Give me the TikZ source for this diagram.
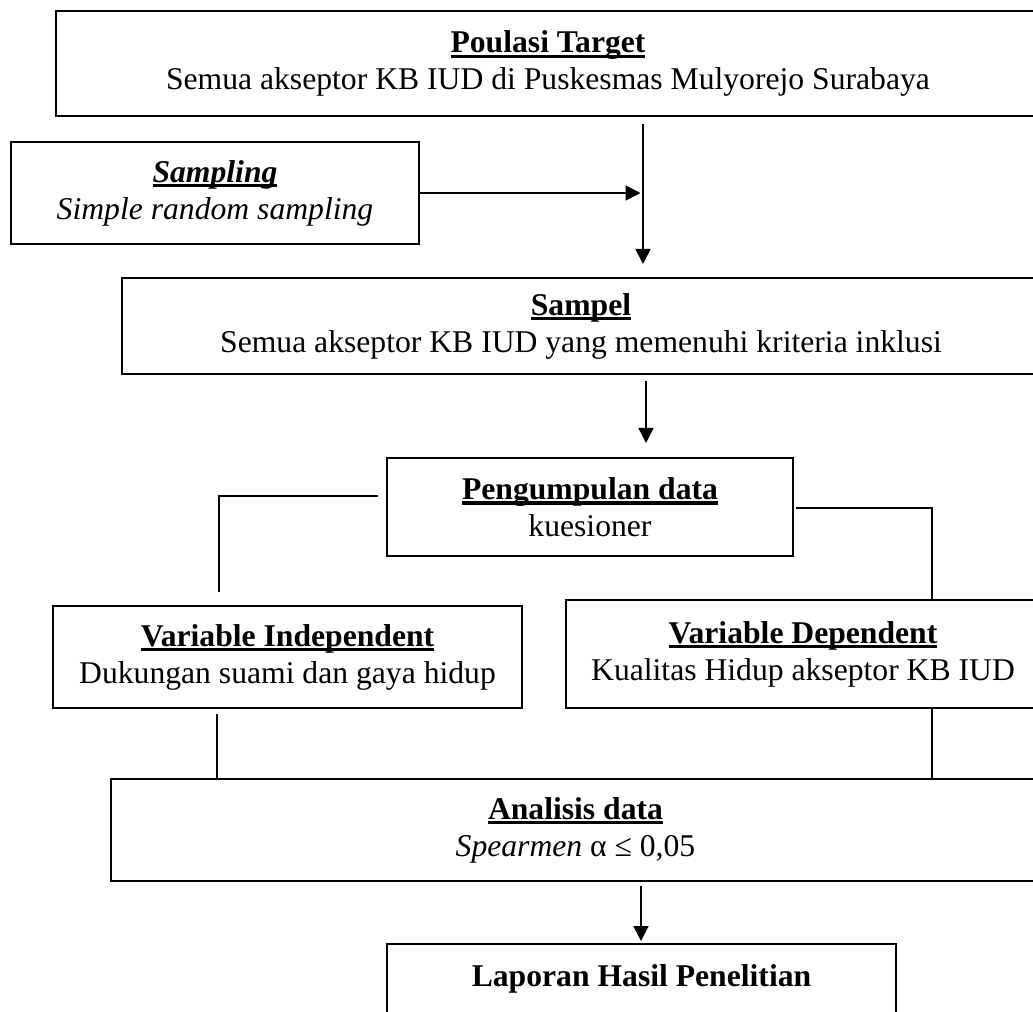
\documentclass[tikz,border=0pt]{standalone}
\usepackage{fontspec}
\setmainfont{Liberation Serif}
\usetikzlibrary{arrows.meta,calc}
\tikzset{
  txt/.style={inner sep=0pt, align=center, font=\fontsize{12.66pt}{14.8pt}\selectfont},
  box/.style={txt, draw, line width=0.8pt},
  conn/.style={line width=0.7pt},
  arr/.style={conn, -{Triangle[length=6pt,width=6pt]}}
}
\newsavebox{\ulbox}
\newcommand{\myul}[1]{\sbox{\ulbox}{#1}\rlap{\rule[-2.1pt]{\wd\ulbox}{1.3pt}}\usebox{\ulbox}}
\newcommand{\ttl}[1]{\myul{\textbf{#1}}}
\begin{document}
\begin{tikzpicture}[x=0.4pt,y=-0.4pt]
\useasboundingbox (0,0) rectangle (1033,1012);
\clip (0,0) rectangle (1033,1012);
\node[box, minimum width=393.6pt, minimum height=42pt] (top) at (548,63.5) {\ttl{Poulasi Target}\\Semua akseptor KB IUD di Puskesmas Mulyorejo Surabaya};
\node[box, minimum width=163.2pt, minimum height=40.8pt] (sampling) at (215,193) {\myul{\textbf{\textit{Sampling}}}\\\textit{Simple random sampling}};
\node[box, minimum width=367.2pt, minimum height=38.4pt] (sampel) at (581,326) {\ttl{Sampel}\\Semua akseptor KB IUD yang memenuhi kriteria inklusi};
\node[box, minimum width=162.4pt, minimum height=39.2pt] (peng) at (590,507) {\ttl{Pengumpulan data}\\kuesioner};
\node[box, minimum width=187.6pt, minimum height=40.8pt] (indep) at (287.5,657) {\ttl{Variable Independent}\\Dukungan suami dan gaya hidup};
\node[box, minimum width=189.6pt, minimum height=43.2pt] (dep) at (803,654) {\ttl{Variable Dependent}\\Kualitas Hidup akseptor KB IUD};
\node[box, minimum width=371.6pt, minimum height=40.8pt] (analisis) at (575.5,830) {\ttl{Analisis data}\\\textit{Spearmen} α ≤ 0,05};
\node[box, minimum width=203.6pt, minimum height=46.4pt] (laporan) at (641.5,1002) {};
\node[txt] (laptext) at (641.5,979) {\textbf{Laporan Hasil Penelitian}};

\coordinate (vx) at (643,0);
\draw[arr, shorten <=2.8pt, shorten >=5.2pt] (top.south -| vx) -- (sampel.north -| vx);
\draw[arr, shorten >=1pt] (sampling.east) -- (sampling.east -| vx);
\coordinate (vx2) at (646,0);
\draw[arr, shorten <=2.4pt, shorten >=5.6pt] (sampel.south -| vx2) -- (peng.north -| vx2);
\coordinate (jl) at (219,496);
\draw[conn, shorten <=3.2pt, shorten >=5.2pt] (peng.west |- jl) -- (jl) -- (indep.north -| jl);
\coordinate (jr) at (932,508);
\draw[conn, shorten <=0.8pt] (peng.east |- jr) -- (jr) -- (dep.north -| jr);
\coordinate (xl) at (217,0);
\draw[conn, shorten <=2pt] (indep.south -| xl) -- (analisis.north -| xl);
\draw[conn] (dep.south -| jr) -- (analisis.north -| jr);
\coordinate (vx3) at (641,0);
\draw[arr, shorten <=1.6pt, shorten >=0.8pt] (analisis.south -| vx3) -- (laporan.north -| vx3);
\end{tikzpicture}
\end{document}
